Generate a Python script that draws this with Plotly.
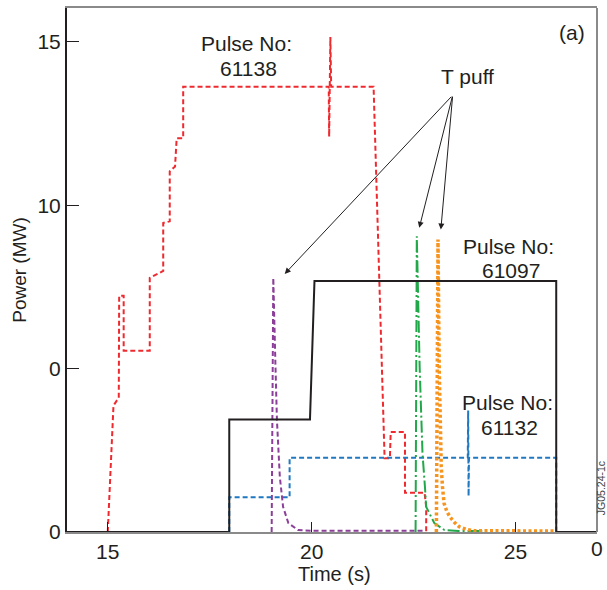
import plotly.graph_objects as go

# Heating power traces (time in s, power in MW)
t_61097 = [14.0, 17.98, 17.98, 19.96, 20.07, 26.0, 26.0, 27.0]
p_61097 = [0, 0, 3.44, 3.44, 7.68, 7.68, 0, 0]

t_61132 = [17.98, 17.98, 19.46, 19.46, 23.83, 23.84, 23.85, 23.86, 26.0, 26.0]
p_61132 = [0, 1.06, 1.06, 2.27, 2.27, 3.72, 1.1, 2.27, 2.27, 0]

t_61138 = [15.0, 15.07, 15.14, 15.22, 15.27, 15.28, 15.39, 15.39, 16.03, 16.03,
           16.36, 16.36, 16.52, 16.52, 16.65, 16.69, 16.85, 16.85, 20.42, 20.43,
           20.44, 20.46, 20.48, 21.52, 21.79, 21.92, 21.94, 22.29, 22.29, 22.77,
           22.81, 22.81]
p_61138 = [0, 2.2, 3.87, 4.02, 4.1, 7.23, 7.23, 5.55, 5.55, 7.78,
           7.99, 9.46, 9.51, 11.04, 11.19, 12.05, 12.05, 13.63, 13.63, 12.1,
           13.63, 15.15, 13.63, 13.63, 2.26, 2.26, 3.06, 3.06, 1.2, 1.2,
           0.77, 0]

# Tritium puff traces
t_puff1 = [19.02, 19.06, 19.11, 19.15, 19.22, 19.30, 19.43, 19.67, 20.0, 22.74]
p_puff1 = [0, 7.78, 5.24, 3.41, 1.69, 0.77, 0.27, 0.06, 0.04, 0.04]

t_puff2 = [22.55, 22.58, 22.65, 22.72, 22.78, 22.81, 23.01, 23.26, 23.6, 24.2]
p_puff2 = [0, 9.05, 5.04, 2.4, 1.38, 0.77, 0.27, 0.06, 0.03, 0.03]

t_puff3 = [23.06, 23.1, 23.13, 23.16, 23.18, 23.21, 23.25, 23.32, 23.4, 23.5,
           23.62, 23.8, 24.0, 25.95]
p_puff3 = [0, 8.95, 5.0, 3.0, 2.0, 1.38, 0.87, 0.62, 0.45, 0.3,
           0.16, 0.08, 0.04, 0.03]

x_ticks = [15, 20, 25]
x_ticklabels = ["15", "20", "25"]
y_ticks = [0, 5, 10, 15]
y_ticklabels = ["0", "0", "10", "15"]

FONT = "Liberation Sans, Arial, sans-serif"
TXT = "#231f20"

W, H = 607, 590
ML, MR, MT, MB = 67, 10, 6, 58
PW, PH = W - ML - MR, H - MT - MB


def px(x, y):
    """Pixel position in the page -> paper coordinates of the plot area."""
    return (x - ML) / PW, (H - MB - y) / PH


fig = go.Figure()


def add(t, p, color, dash, width=2):
    fig.add_trace(go.Scatter(x=t, y=p, mode="lines",
                             line=dict(color=color, dash=dash, width=width),
                             showlegend=False, hoverinfo="skip"))


add(t_61138, p_61138, "#ee2a2f", "5px,3px")
add(t_61132, p_61132, "#1f78c1", "5px,3px")
add(t_puff1, p_puff1, "#8b3f98", "5px,3px")
add(t_puff2, p_puff2, "#22a84a", "12px,3px,2px,3px")
add(t_puff3, p_puff3, "#f7941d", "3px,2.5px", 3.5)
add(t_61097, p_61097, "#231f20", "solid", 2)

labels = [
    (246, 42, "Pulse No:", 21),
    (248, 67, "61138", 21),
    (467, 75, "T puff", 21),
    (508, 245, "Pulse No:", 21),
    (511, 270, "61097", 21),
    (507, 402, "Pulse No:", 21),
    (509, 427, "61132", 21),
    (572, 31, "(a)", 21),
    (334, 574, "Time (s)", 20),
]
ann = []
for lx, ly, text, size in labels:
    ax_, ay_ = px(lx, ly)
    ann.append(dict(x=ax_, y=ay_, xref="paper", yref="paper", text=text,
                    showarrow=False, xanchor="center", yanchor="middle",
                    font=dict(family=FONT, size=size, color=TXT)))

# arrows from "T puff"
tail = (23.46, 13.37)
for tip in [(19.34, 7.9), (22.64, 9.31), (23.17, 9.26)]:
    ann.append(dict(x=tip[0], y=tip[1], ax=tail[0], ay=tail[1], xref="x", yref="y",
                    axref="x", ayref="y", showarrow=True, arrowhead=2, arrowsize=1.2,
                    arrowwidth=1, arrowcolor=TXT, text=""))

# right-end tick label and figure ID
ann.append(dict(x=27, y=0, xref="x", yref="y", text="0", showarrow=False,
                yshift=-16, xanchor="center", yanchor="middle",
                font=dict(family=FONT, size=21, color=TXT)))
jx, jy = px(601, 488)
ann.append(dict(x=jx, y=jy, xref="paper", yref="paper",
                text="JG05.24-1c", showarrow=False, textangle=-90,
                xanchor="center", yanchor="middle", borderpad=0,
                font=dict(family=FONT, size=10.5, color="#444444")))

fig.update_layout(
    width=W, height=H,
    margin=dict(l=ML, r=MR, t=MT, b=MB),
    plot_bgcolor="white", paper_bgcolor="white",
    annotations=ann,
    xaxis=dict(range=[14, 27], tickvals=x_ticks, ticktext=x_ticklabels,
               ticks="inside", ticklen=10, tickwidth=1, tickcolor=TXT,
               showline=True, linecolor="#8a8a8a", linewidth=2, mirror=True,
               showgrid=False, zeroline=False,
               tickfont=dict(family=FONT, size=21, color=TXT)),
    yaxis=dict(range=[0, 16.04], tickvals=y_ticks, ticktext=y_ticklabels,
               ticks="inside", ticklen=12, tickwidth=1, tickcolor=TXT,
               showline=True, linecolor=TXT, linewidth=2, mirror=False,
               showgrid=False, zeroline=False,
               tickfont=dict(family=FONT, size=21, color=TXT),
               title=dict(text="Power (MW)", font=dict(family=FONT, size=19, color=TXT),
                          standoff=6)),
    shapes=[dict(type="line", xref="paper", yref="paper", x0=1, x1=1, y0=0, y1=1,
                 line=dict(color="#8a8a8a", width=2))],
)

fig.write_html("out.html")
